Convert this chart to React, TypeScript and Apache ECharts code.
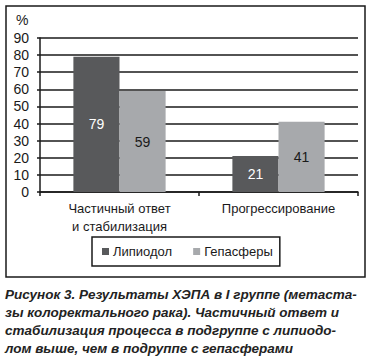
import React, { useEffect, useRef } from "react";
import * as echarts from "echarts";

const categories = ["Частичный ответ\nи стабилизация", "Прогрессирование"];
const lipiodol = [79, 21];
const hepasphere = [59, 41];
const seriesNames = ["Липиодол", "Гепасферы"];
const captionLines = [
  "Рисунок 3. Результаты ХЭПА в I группе (метаста-",
  "зы колоректального рака). Частичный ответ и",
  "стабилизация процесса в подгруппе с липиодо-",
  "лом выше, чем в подруппе с гепасферами",
];

const FONT = "'Liberation Sans', Arial, sans-serif";

export default function App() {
  const ref = useRef<HTMLDivElement>(null);
  useEffect(() => {
    if (!ref.current) return;
    const chart = echarts.init(ref.current, null, { renderer: "svg" });
    chart.setOption({
      animation: false,
      backgroundColor: "#fff",
      textStyle: { fontFamily: FONT },
      grid: { left: 40, right: 12, top: 38, bottom: 165, containLabel: false },
      xAxis: {
        type: "category",
        data: categories,
        axisLine: { lineStyle: { color: "#1a1a1a", width: 1.5 } },
        axisTick: { show: true, length: 4, lineStyle: { color: "#1a1a1a", width: 1.5 } },
        axisLabel: { color: "#1a1a1a", fontSize: 13, fontFamily: FONT, margin: 7, lineHeight: 18 },
      },
      yAxis: {
        type: "value",
        min: 0,
        max: 90,
        interval: 10,
        axisLine: { show: true, lineStyle: { color: "#1a1a1a", width: 1.5 } },
        axisTick: { show: true, length: 3, lineStyle: { color: "#1a1a1a", width: 1.5 } },
        splitLine: { lineStyle: { color: "#1a1a1a", width: 1.5 } },
        axisLabel: { color: "#1a1a1a", fontSize: 14, fontFamily: FONT, margin: 11 },
      },
      legend: {
        left: 92,
        top: 237,
        orient: "horizontal",
        icon: "rect",
        itemWidth: 7,
        itemHeight: 7,
        itemGap: 21,
        padding: [8, 7, 8, 10],
        borderColor: "#1a1a1a",
        borderWidth: 1.5,
        textStyle: { color: "#1a1a1a", fontSize: 13, fontFamily: FONT, padding: [0, 0, 0, -1] },
        data: seriesNames,
      },
      series: [
        {
          name: seriesNames[0],
          type: "bar",
          data: lipiodol,
          barGap: "0%",
          barCategoryGap: "42%",
          itemStyle: { color: "#58595b" },
          label: { show: true, position: "inside", color: "#fff", fontSize: 14, fontFamily: FONT },
        },
        {
          name: seriesNames[1],
          type: "bar",
          data: hepasphere,
          barGap: "0%",
          barCategoryGap: "42%",
          itemStyle: { color: "#a7a9ac" },
          label: { show: true, position: "inside", color: "#1a1a1a", fontSize: 14, fontFamily: FONT },
        },
      ],
      graphic: [
        {
          type: "rect",
          shape: { x: 6, y: 6, width: 359, height: 271 },
          style: { fill: "none", stroke: "#1a1a1a", lineWidth: 1.5 },
          silent: true,
        },
        {
          type: "text",
          x: 16,
          y: 13,
          style: { text: "%", fill: "#1a1a1a", font: `14px ${FONT}` },
        },
        ...captionLines.map((t, i) => ({
          type: "text",
          x: 5,
          y: 287 + i * 18,
          style: { text: t, fill: "#222", font: `italic bold 13.5px ${FONT}` },
        })),
      ],
    });
    return () => chart.dispose();
  }, []);
  return (
    <div
      ref={ref}
      style={{ position: "fixed", left: 0, top: 0, width: 370, height: 357 }}
    />
  );
}
